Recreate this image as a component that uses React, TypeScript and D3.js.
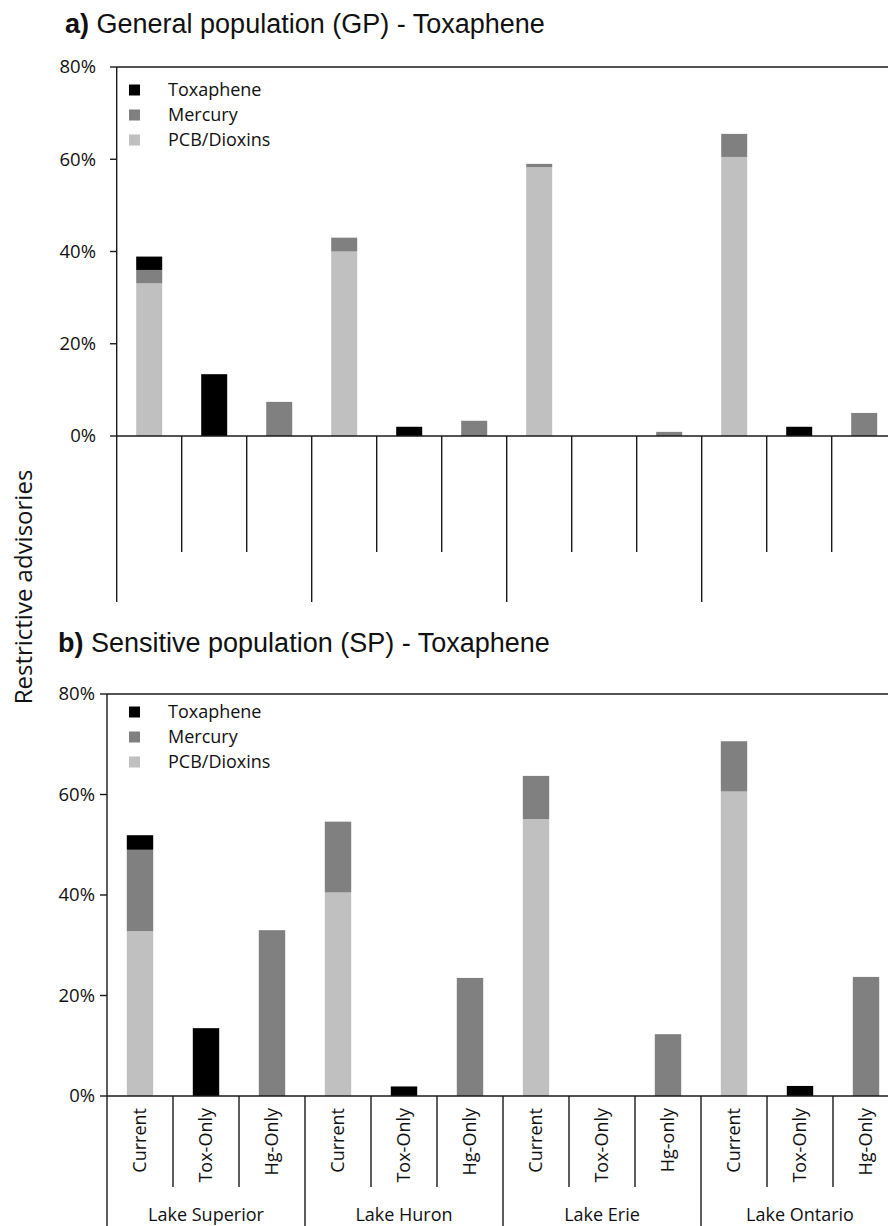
import React from "react";
import * as d3 from "d3";

const lakes = ["Lake Superior", "Lake Huron", "Lake Erie", "Lake Ontario"];
const scenarioLabels = [
  "Current", "Tox-Only", "Hg-Only",
  "Current", "Tox-Only", "Hg-Only",
  "Current", "Tox-Only", "Hg-only",
  "Current", "Tox-Only", "Hg-Only",
];
const seriesKeys = ["pcb", "hg", "tox"];
const seriesNames = ["Toxaphene", "Mercury", "PCB/Dioxins"];
const seriesColors: Record<string, string> = { tox: "#000000", hg: "#808080", pcb: "#c0c0c0" };
const legendKeys = ["tox", "hg", "pcb"];
const yTicks = [0, 20, 40, 60, 80];

// Panel a: General population
const pcbGP = [33.1, 0, 0, 40.0, 0, 0, 58.3, 0, 0, 60.5, 0, 0];
const hgGP = [2.9, 0, 7.4, 3.0, 0, 3.3, 0.7, 0, 0.9, 5.0, 0, 5.0];
const toxGP = [2.9, 13.4, 0, 0, 2.0, 0, 0, 0, 0, 0, 2.0, 0];

// Panel b: Sensitive population
const pcbSP = [32.8, 0, 0, 40.5, 0, 0, 55.1, 0, 0, 60.6, 0, 0];
const hgSP = [16.2, 0, 33.0, 14.1, 0, 23.5, 8.6, 0, 12.3, 10.0, 0, 23.7];
const toxSP = [2.9, 13.5, 0, 0, 1.9, 0, 0, 0, 0, 0, 2.0, 0];

const SANS = "'Open Sans', sans-serif";
const TITLE = "'Liberation Sans', Arial, sans-serif";
const LINE = "#1a1a1a";

type PanelProps = {
  letter: string;
  title: string;
  pcb: number[];
  hg: number[];
  tox: number[];
  axisX: number;
  step: number;
  y0: number;
  yTop: number;
  titleX: number;
  titleY: number;
  labelRight: number;
  tickFrom: number;
  shortEnd: number;
  longEnd: number;
  legendY: number;
  showLabels: boolean;
};

function Panel(p: PanelProps) {
  const ids = scenarioLabels.map((_, i) => String(i));
  const rows = ids.map((id, i) => ({ id, pcb: p.pcb[i], hg: p.hg[i], tox: p.tox[i] }));
  const right = p.axisX + p.step * ids.length;
  const x = d3.scaleBand<string>().domain(ids).range([p.axisX, right]).paddingInner(0.6).paddingOuter(0.3);
  const stepW = x.step();
  const y = d3.scaleLinear().domain([0, 80]).range([p.y0, p.yTop]);
  const stacked = d3.stack<any>().keys(seriesKeys)(rows);
  const boundaries = ids.map((id) => (x(id) as number) - stepW * 0.3);
  boundaries.push(right);

  return (
    <g>
      <text x={p.titleX} y={p.titleY} fontFamily={TITLE} fontSize={27} fill="#111">
        <tspan fontWeight="bold">{p.letter}</tspan>
        <tspan> {p.title}</tspan>
      </text>
      {stacked.map((s) => (
        <g key={s.key} fill={seriesColors[s.key]}>
          {s.map((d, i) =>
            d[1] - d[0] > 0 ? (
              <rect key={i} x={x(ids[i])} width={x.bandwidth()} y={y(d[1])} height={y(d[0]) - y(d[1])} />
            ) : null
          )}
        </g>
      ))}
      {/* frame */}
      <line x1={p.axisX} x2={right + 20} y1={p.yTop} y2={p.yTop} stroke={LINE} strokeWidth={1.4} />
      <line x1={p.axisX} x2={right + 20} y1={p.y0} y2={p.y0} stroke={LINE} strokeWidth={1.4} />
      <line x1={p.axisX} x2={p.axisX} y1={p.yTop} y2={p.longEnd} stroke={LINE} strokeWidth={1.4} />
      {yTicks.map((t) => (
        <g key={t}>
          <line x1={p.tickFrom} x2={p.axisX} y1={y(t)} y2={y(t)} stroke={LINE} strokeWidth={1.4} />
          <text x={p.labelRight} y={y(t)} dy="0.35em" textAnchor="end" fontFamily={SANS} fontSize={18.5} fill="#111">
            {t}%
          </text>
        </g>
      ))}
      {boundaries.slice(1).map((bx, k) => {
        const idx = k + 1;
        const isLake = idx % 3 === 0;
        return (
          <line key={idx} x1={bx} x2={bx} y1={p.y0} y2={isLake ? p.longEnd : p.shortEnd} stroke={LINE} strokeWidth={1.4} />
        );
      })}
      {p.showLabels &&
        ids.map((id, i) => (
          <text
            key={id}
            transform={`translate(${(x(id) as number) + x.bandwidth() / 2},${p.y0 + 12}) rotate(-90)`}
            dy="0.35em"
            textAnchor="end"
            fontFamily={SANS}
            fontSize={18}
            fill="#111"
          >
            {scenarioLabels[i]}
          </text>
        ))}
      {p.showLabels &&
        lakes.map((lk, j) => (
          <text
            key={lk}
            x={(boundaries[j * 3] + boundaries[j * 3 + 3]) / 2}
            y={p.longEnd - 5}
            textAnchor="middle"
            fontFamily={SANS}
            fontSize={18}
            fill="#111"
          >
            {lk}
          </text>
        ))}
      {legendKeys.map((k, i) => (
        <g key={k}>
          <rect x={129} y={p.legendY + i * 25 - 5.5} width={11} height={11} fill={seriesColors[k]} />
          <text x={168} y={p.legendY + i * 25} dy="0.35em" fontFamily={SANS} fontSize={18} fill="#111">
            {seriesNames[i]}
          </text>
        </g>
      ))}
    </g>
  );
}

export default function App() {
  return (
    <svg
      width={888}
      height={1226}
      viewBox="0 0 888 1226"
      style={{ position: "absolute", left: 0, top: 0, display: "block", background: "#fff" }}
    >
      <rect x={0} y={0} width={888} height={1226} fill="#fff" />
      <Panel
        letter="a)"
        title="General population (GP) - Toxaphene"
        pcb={pcbGP}
        hg={hgGP}
        tox={toxGP}
        axisX={116.7}
        step={65}
        y0={436}
        yTop={67}
        titleX={65}
        titleY={33}
        labelRight={96}
        tickFrom={110}
        shortEnd={552}
        longEnd={602}
        legendY={90}
        showLabels={false}
      />
      <Panel
        letter="b)"
        title="Sensitive population (SP) - Toxaphene"
        pcb={pcbSP}
        hg={hgSP}
        tox={toxSP}
        axisX={107}
        step={66}
        y0={1096}
        yTop={694}
        titleX={58}
        titleY={652}
        labelRight={95}
        tickFrom={100}
        shortEnd={1187}
        longEnd={1226}
        legendY={712}
        showLabels={true}
      />
      <text
        transform="translate(24,587) rotate(-90)"
        dy="0.35em"
        textAnchor="middle"
        fontFamily={SANS}
        fontSize={24}
        fill="#111"
      >
        Restrictive advisories
      </text>
    </svg>
  );
}
